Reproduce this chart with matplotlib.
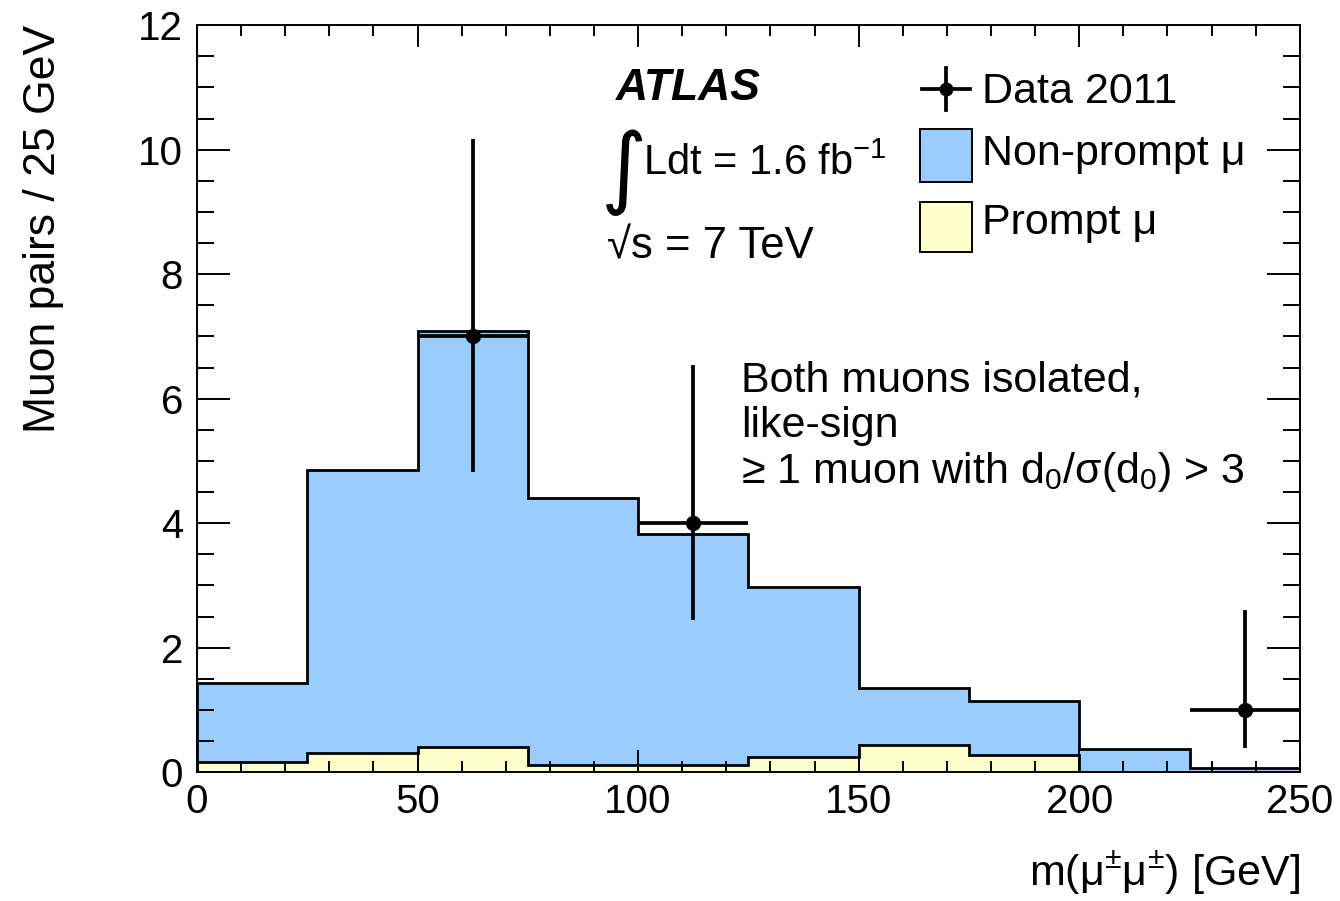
import matplotlib
matplotlib.use("Agg")
import matplotlib.pyplot as plt
import numpy as np
from matplotlib.patches import Rectangle
from matplotlib.lines import Line2D

plt.rcParams['font.family'] = ['Liberation Sans', 'DejaVu Sans']
plt.rcParams['mathtext.fontset'] = 'custom'
plt.rcParams['mathtext.rm'] = 'Liberation Sans'
plt.rcParams['mathtext.it'] = 'Liberation Sans:italic'

# ---- data ----
bin_edges = [0, 25, 50, 75, 100, 125, 150, 175, 200, 225, 250]
prompt = [0.17, 0.30, 0.41, 0.12, 0.12, 0.24, 0.43, 0.27, 0.0, 0.0]
total_bkg = [1.44, 4.86, 7.09, 4.40, 3.82, 2.97, 1.36, 1.14, 0.38, 0.07]   # prompt + non-prompt
data_x = [62.5, 112.5, 237.5]
data_y = [7, 4, 1]
data_err_lo = [2.18, 1.55, 0.61]
data_err_hi = [3.18, 2.54, 1.61]
data_xerr = [12.5, 12.5, 12.5]

fig = plt.figure(figsize=(13.4, 9.01), dpi=100)
ax = fig.add_axes([0.147, 0.143, 0.823, 0.829])

ax.stairs(total_bkg, bin_edges, fill=True, facecolor='#99ccff', edgecolor='none')
ax.stairs(total_bkg, bin_edges, fill=False, edgecolor='black', linewidth=2.0, baseline=0)
ax.stairs(prompt, bin_edges, fill=True, facecolor='#ffffcc', edgecolor='none')
ax.stairs(prompt, bin_edges, fill=False, edgecolor='black', linewidth=2.0, baseline=0)

ax.errorbar(data_x, data_y, yerr=[data_err_lo, data_err_hi], xerr=data_xerr,
            fmt='o', color='black', markersize=10, elinewidth=2.7, capsize=0, zorder=5)

ax.set_xlim(0, 250)
ax.set_ylim(0, 12)
ax.set_xticks([0, 50, 100, 150, 200, 250])
ax.set_xticks(np.arange(0, 251, 10), minor=True)
ax.set_yticks([0, 2, 4, 6, 8, 10, 12])
ax.set_yticks(np.arange(0, 12.01, 0.5), minor=True)
ax.tick_params(axis='both', which='both', direction='in', top=True, right=True,
               labelsize=29, width=1.4, colors='black')
ax.tick_params(axis='x', which='major', length=16, pad=8)
ax.tick_params(axis='x', which='minor', length=8)
ax.tick_params(axis='y', which='major', length=24, pad=10)
ax.tick_params(axis='y', which='minor', length=12)
for s in ax.spines.values():
    s.set_linewidth(1.4)

ax.set_ylabel('Muon pairs / 25 GeV', fontsize=32, loc='top', labelpad=53)
ax.set_xlabel('m(\u03bc$^{\\pm}$\u03bc$^{\\pm}$) [GeV]', fontsize=31, loc='right', labelpad=20)

# ATLAS labels
ax.text(0.380, 0.915, 'ATLAS', transform=ax.transAxes, fontsize=32, fontweight='bold',
        fontstyle='italic', ha='left', va='center')
ax.text(0.366, 0.803, '\u222b', transform=ax.transAxes, fontsize=64, ha='left', va='center',
        family='DejaVu Sans')
ax.text(0.404, 0.815, 'Ldt = 1.6 fb$^{\\mathregular{-1}}$', transform=ax.transAxes, fontsize=30,
        ha='left', va='center')
ax.text(0.372, 0.703, '\u221as = 7 TeV', transform=ax.transAxes, fontsize=31.5,
        ha='left', va='center')

# legend (manual)
lx0, lx1 = 0.657, 0.701
ax.add_line(Line2D([lx0, lx1], [0.915, 0.915], transform=ax.transAxes, color='black', lw=2.7))
ax.add_line(Line2D([(lx0 + lx1) / 2] * 2, [0.887, 0.943], transform=ax.transAxes, color='black', lw=2.7))
ax.plot([(lx0 + lx1) / 2], [0.915], 'o', color='black', markersize=9, transform=ax.transAxes)
ax.text(0.712, 0.91, 'Data 2011', transform=ax.transAxes, fontsize=31, va='center')
ax.add_patch(Rectangle((0.656, 0.79), 0.047, 0.071, transform=ax.transAxes,
                       facecolor='#99ccff', edgecolor='black', lw=1.4))
ax.text(0.712, 0.828, 'Non-prompt \u03bc', transform=ax.transAxes, fontsize=31, va='center')
ax.add_patch(Rectangle((0.656, 0.697), 0.047, 0.066, transform=ax.transAxes,
                       facecolor='#ffffcc', edgecolor='black', lw=1.4))
ax.text(0.712, 0.735, 'Prompt \u03bc', transform=ax.transAxes, fontsize=31, va='center')

# selection text
ax.text(0.493, 0.525, 'Both muons isolated,', transform=ax.transAxes, fontsize=31, va='center')
ax.text(0.493, 0.463, 'like-sign', transform=ax.transAxes, fontsize=31, va='center')
ax.text(0.493, 0.402, '\u2265 1 muon with d$_{\\mathregular{0}}$/\u03c3(d$_{\\mathregular{0}}$) > 3',
        transform=ax.transAxes, fontsize=31, va='center')

fig.savefig('out.png', dpi=100)
